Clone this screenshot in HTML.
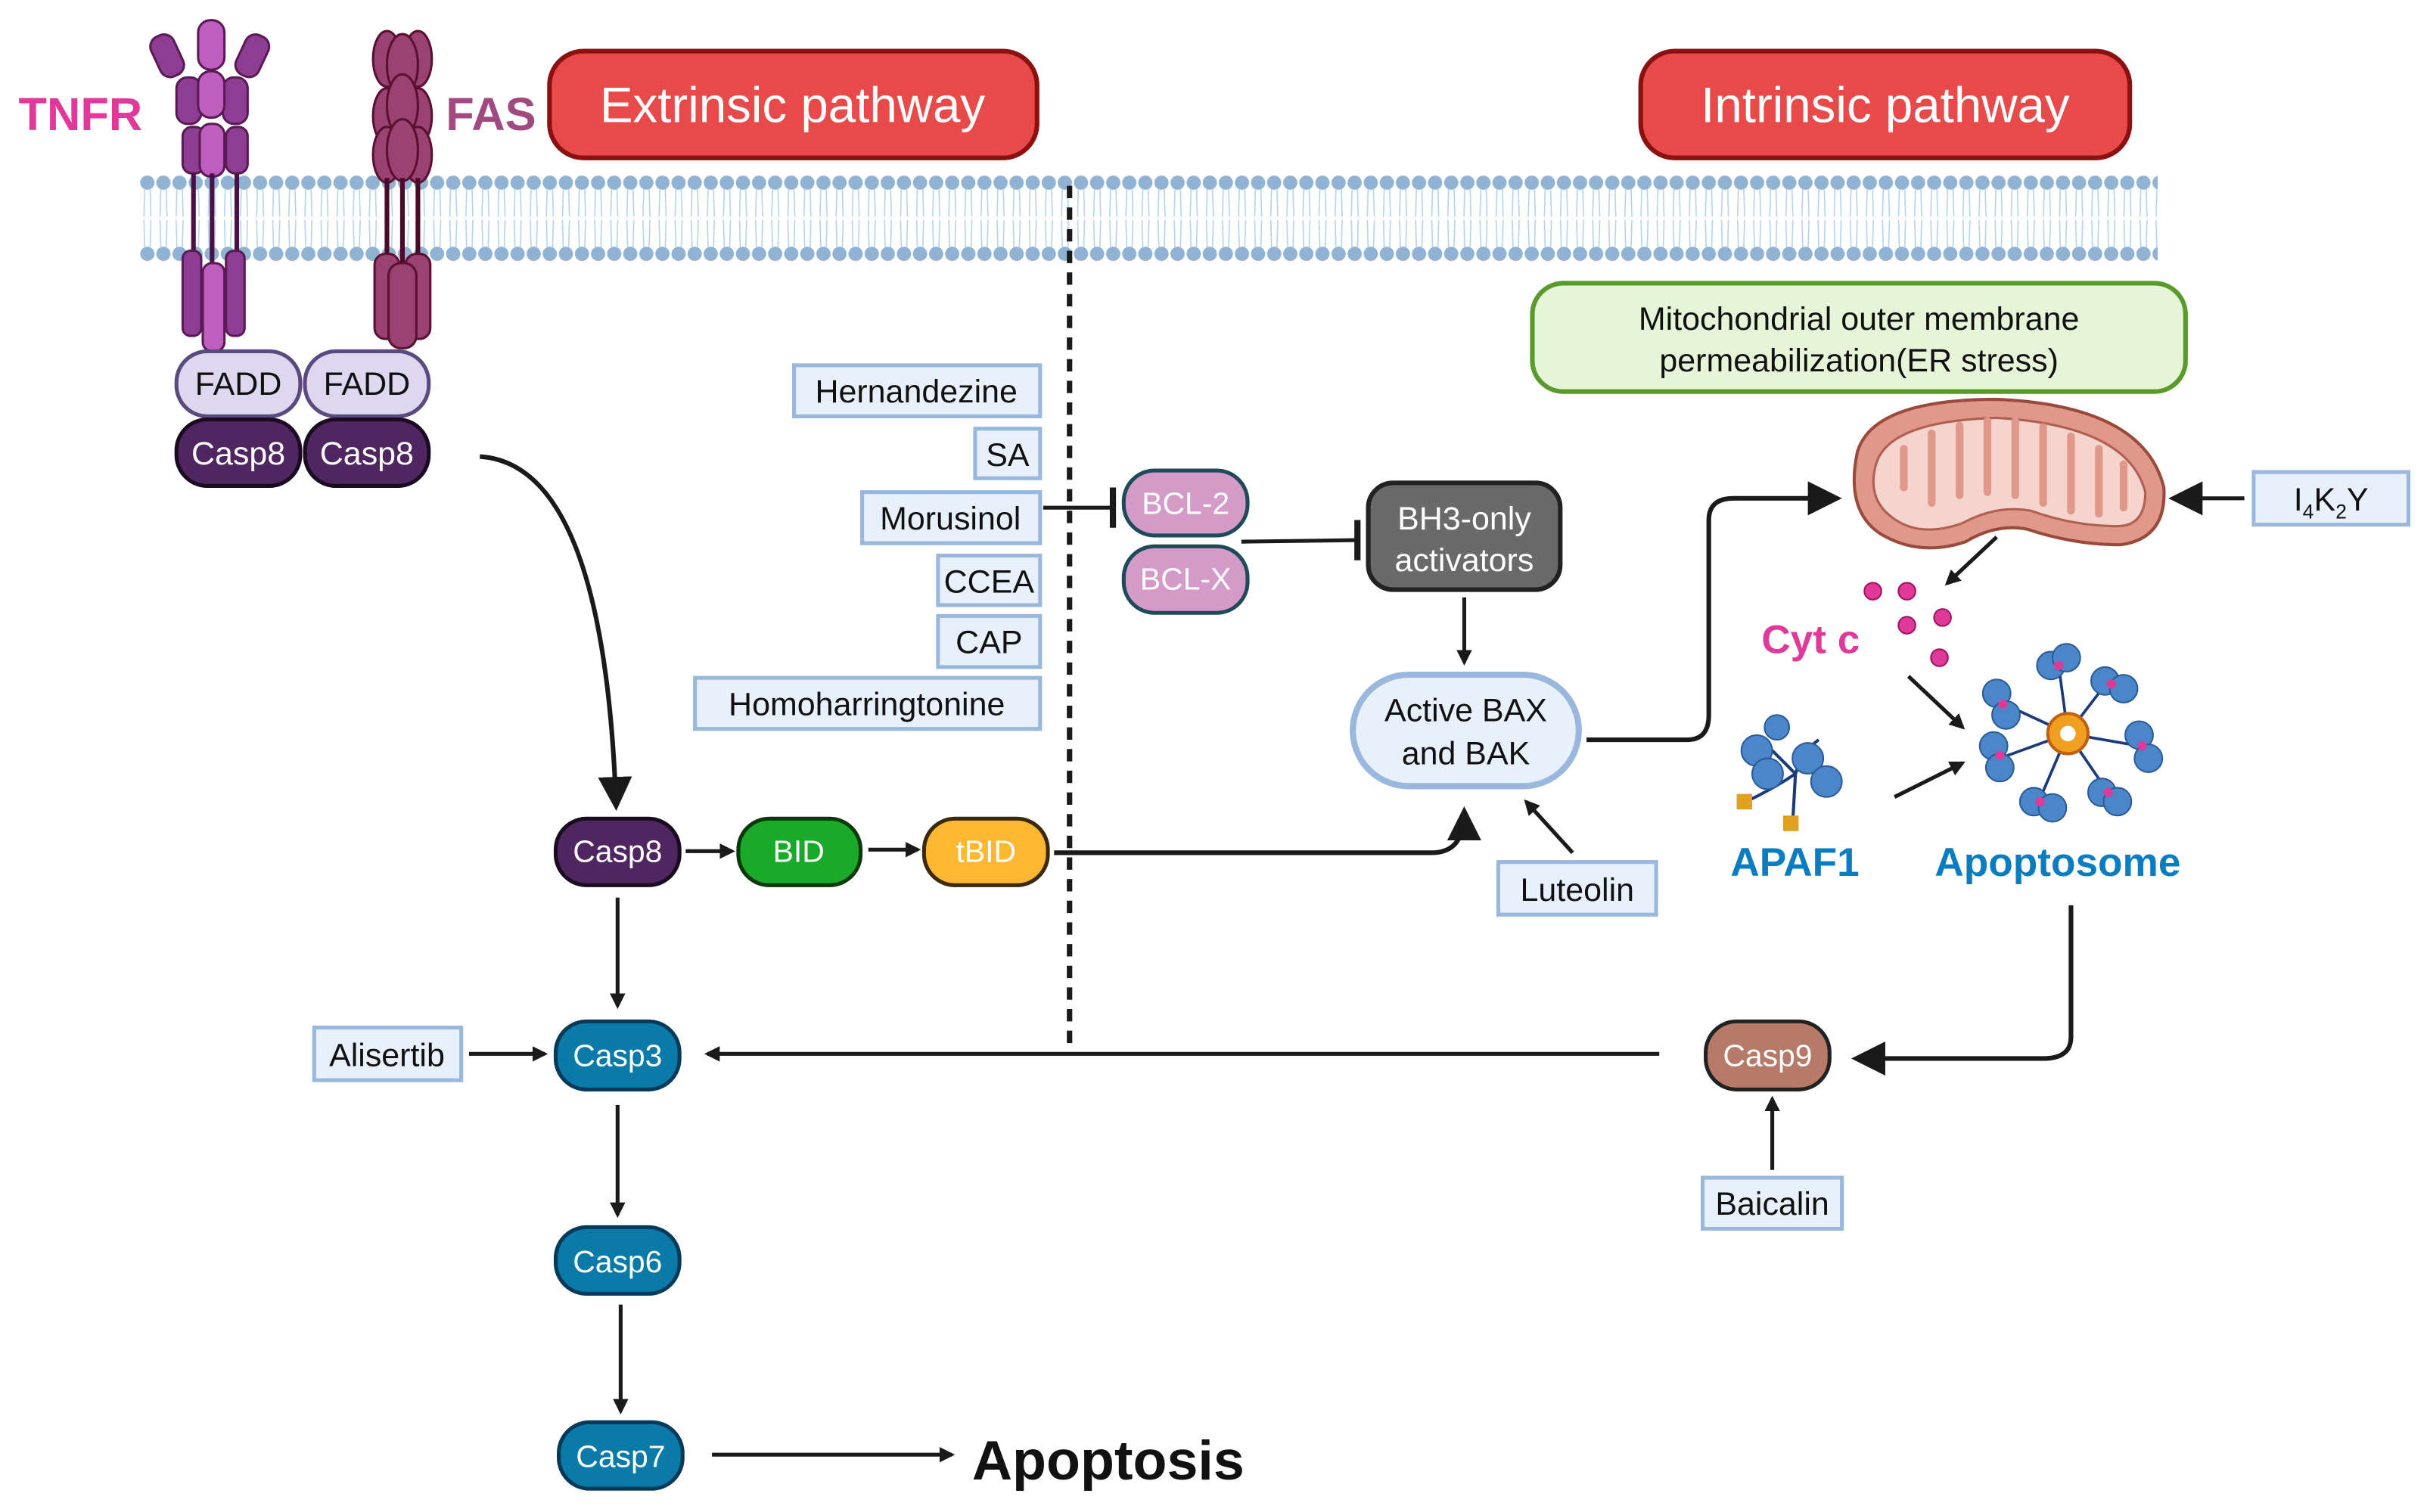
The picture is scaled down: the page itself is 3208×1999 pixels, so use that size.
<!DOCTYPE html>
<html><head><meta charset="utf-8"><style>
html,body{margin:0;padding:0;background:#fff}
svg{display:block}
text{font-family:"Liberation Sans",sans-serif}
</style></head><body>
<svg width="3208" height="1999" viewBox="0 0 1568 977" xmlns="http://www.w3.org/2000/svg">
<defs>
<marker id="ar" markerWidth="10" markerHeight="10" refX="8" refY="5" orient="auto" markerUnits="userSpaceOnUse"><path d="M0,0 L10,5 L0,10 z" fill="#1a1a1a"/></marker>
<marker id="arL" markerWidth="22" markerHeight="22" refX="18" refY="11" orient="auto" markerUnits="userSpaceOnUse"><path d="M0,0 L22,11 L0,22 z" fill="#1a1a1a"/></marker>
<pattern id="dots" x="90" y="0" width="10.4" height="60" patternUnits="userSpaceOnUse">
<circle cx="5.2" cy="118" r="4.5" fill="#8fb0d0"/>
</pattern>
<pattern id="mem" x="90" y="113" width="10.4" height="56" patternUnits="userSpaceOnUse">
<circle cx="5.2" cy="5" r="4.6" fill="#90b2d3"/>
<circle cx="5.2" cy="51" r="4.6" fill="#90b2d3"/>
<path d="M3.5 9 L3 27 M7 9 L7.5 27 M3 29 L3.5 47 M7.5 29 L7 47" stroke="#b5d3ee" stroke-width="0.8" fill="none"/>
</pattern>
</defs>

<!-- membrane -->
<rect x="90" y="113" width="1304" height="56" fill="url(#mem)"/>

<!-- dashed line -->
<line x1="691" y1="120" x2="691" y2="676" stroke="#1a1a1a" stroke-width="3.5" stroke-dasharray="8,6"/>

<!-- TNFR receptor -->
<g stroke="#5a1a55" stroke-width="1.5">
<rect x="100" y="22" width="16" height="28" rx="7" fill="#8e3e92" transform="rotate(-25 108 36)"/>
<rect x="155" y="22" width="16" height="28" rx="7" fill="#8e3e92" transform="rotate(25 163 36)"/>
<rect x="128" y="13" width="17" height="32" rx="8" fill="#c05ec0"/>
<rect x="114" y="50" width="16" height="30" rx="7" fill="#8e3e92"/>
<rect x="144" y="50" width="16" height="30" rx="7" fill="#8e3e92"/>
<rect x="128" y="46" width="17" height="30" rx="8" fill="#c05ec0"/>
<rect x="118" y="82" width="14" height="30" rx="6" fill="#8e3e92"/>
<rect x="146" y="82" width="14" height="30" rx="6" fill="#8e3e92"/>
<rect x="129" y="80" width="16" height="34" rx="7" fill="#c05ec0"/>
</g>
<g stroke="#4a1048" stroke-width="3"><line x1="125" y1="112" x2="125" y2="170"/><line x1="137" y1="112" x2="137" y2="180"/><line x1="153" y1="112" x2="153" y2="170"/></g>
<g stroke="#5a1a55" stroke-width="1.5">
<rect x="118" y="162" width="12" height="55" rx="5" fill="#8e3e92"/>
<rect x="146" y="162" width="12" height="55" rx="5" fill="#8e3e92"/>
<rect x="131" y="170" width="14" height="57" rx="6" fill="#c05ec0"/>
</g>
<!-- FAS receptor -->
<g stroke="#5a1030" stroke-width="1.5" fill="#9a4272">
<ellipse cx="250" cy="38" rx="9" ry="18"/><ellipse cx="270" cy="38" rx="9" ry="18"/><ellipse cx="260" cy="42" rx="10" ry="20"/>
<ellipse cx="250" cy="75" rx="9" ry="18"/><ellipse cx="270" cy="75" rx="9" ry="18"/><ellipse cx="260" cy="68" rx="10" ry="20"/>
<ellipse cx="250" cy="100" rx="9" ry="18"/><ellipse cx="270" cy="100" rx="9" ry="18"/><ellipse cx="260" cy="97" rx="10" ry="20"/>
</g>
<g stroke="#4a0a28" stroke-width="3"><line x1="250" y1="115" x2="250" y2="175"/><line x1="260" y1="115" x2="260" y2="175"/><line x1="270" y1="115" x2="270" y2="175"/></g>
<g stroke="#5a1030" stroke-width="1.5" fill="#9a4272">
<rect x="242" y="164" width="16" height="55" rx="7"/><rect x="262" y="164" width="16" height="55" rx="7"/><rect x="251" y="170" width="18" height="55" rx="8"/>
</g>

<text x="12" y="84" font-size="30" font-weight="bold" fill="#e0399a">TNFR</text>
<text x="288" y="84" font-size="30" font-weight="bold" fill="#a04a80">FAS</text>

<!-- FADD / Casp8 -->
<g stroke="#5a4a80" stroke-width="2.5" fill="#ddd8f0">
<rect x="114" y="227" width="80" height="42" rx="20"/><rect x="197" y="227" width="80" height="42" rx="20"/>
</g>
<g stroke="#1a0a22" stroke-width="2.5" fill="#502660">
<rect x="114" y="271" width="80" height="43" rx="20"/><rect x="197" y="271" width="80" height="43" rx="20"/>
</g>
<g font-size="21" text-anchor="middle">
<text x="154" y="255" fill="#111">FADD</text><text x="237" y="255" fill="#111">FADD</text>
<text x="154" y="300" fill="#fff">Casp8</text><text x="237" y="300" fill="#fff">Casp8</text>
</g>

<!-- Pathway titles -->
<rect x="355" y="33" width="315" height="69" rx="22" fill="#e84a4a" stroke="#8b1010" stroke-width="3"/>
<text x="512" y="79" font-size="32" fill="#fff" text-anchor="middle">Extrinsic pathway</text>
<rect x="1060" y="33" width="316" height="69" rx="22" fill="#e84a4a" stroke="#8b1010" stroke-width="3"/>
<text x="1218" y="79" font-size="32" fill="#fff" text-anchor="middle">Intrinsic pathway</text>

<!-- Mito box -->
<rect x="990" y="183" width="422" height="70" rx="20" fill="#e6f4d8" stroke="#5a9a2a" stroke-width="3"/>
<text x="1201" y="213" font-size="21" text-anchor="middle" fill="#111">Mitochondrial outer membrane</text>
<text x="1201" y="240" font-size="21" text-anchor="middle" fill="#111">permeabilization(ER stress)</text>

<!-- Drug boxes -->
<g fill="#e8f1fb" stroke="#9ab8dd" stroke-width="2.5">
<rect x="513" y="236" width="159" height="33"/>
<rect x="630" y="277" width="42" height="32"/>
<rect x="557" y="318" width="115" height="33"/>
<rect x="606" y="359" width="66" height="32"/>
<rect x="606" y="398" width="66" height="33"/>
<rect x="449" y="438" width="223" height="33"/>
<rect x="968" y="557" width="102" height="34"/>
<rect x="203" y="664" width="95" height="34"/>
<rect x="1100" y="761" width="90" height="33"/>
<rect x="1456" y="305" width="100" height="34"/>
</g>
<g font-size="21" fill="#111" text-anchor="middle">
<text x="592" y="260">Hernandezine</text>
<text x="651" y="301">SA</text>
<text x="614" y="342">Morusinol</text>
<text x="639" y="383">CCEA</text>
<text x="639" y="422">CAP</text>
<text x="560" y="462">Homoharringtonine</text>
<text x="1019" y="582">Luteolin</text>
<text x="250" y="689">Alisertib</text>
<text x="1145" y="785">Baicalin</text>
<text x="1506" y="330">I<tspan font-size="13" dy="5">4</tspan><tspan dy="-5">K</tspan><tspan font-size="13" dy="5">2</tspan><tspan dy="-5">Y</tspan></text>
</g>

<!-- BCL -->
<g fill="#d49ac8" stroke="#1e4a5a" stroke-width="2.5">
<rect x="726" y="304" width="80" height="42" rx="20"/><rect x="726" y="353" width="80" height="43" rx="20"/>
</g>
<text x="766" y="332" font-size="20" fill="#fff" text-anchor="middle">BCL-2</text>
<text x="766" y="381" font-size="20" fill="#fff" text-anchor="middle">BCL-X</text>
<g stroke="#1a1a1a" stroke-width="2.5">
<line x1="674" y1="328" x2="718" y2="328"/><line x1="719" y1="315" x2="719" y2="341" stroke-width="4"/>
<line x1="802" y1="350" x2="876" y2="349"/><line x1="877" y1="336" x2="877" y2="362" stroke-width="4"/>
</g>

<!-- BH3 -->
<rect x="884" y="312" width="124" height="69" rx="16" fill="#6a6a6a" stroke="#222" stroke-width="3"/>
<text x="946" y="342" font-size="21" fill="#fff" text-anchor="middle">BH3-only</text>
<text x="946" y="369" font-size="21" fill="#fff" text-anchor="middle">activators</text>
<line x1="946" y1="386" x2="946" y2="428" stroke="#1a1a1a" stroke-width="2.5" marker-end="url(#ar)"/>

<!-- Active BAX -->
<rect x="874" y="436" width="146" height="72" rx="36" fill="#e8f1fb" stroke="#9ab8dd" stroke-width="4"/>
<text x="947" y="466" font-size="21" fill="#111" text-anchor="middle">Active BAX</text>
<text x="947" y="494" font-size="21" fill="#111" text-anchor="middle">and BAK</text>
<line x1="1016" y1="551" x2="986" y2="518" stroke="#1a1a1a" stroke-width="2.5" marker-end="url(#ar)"/>

<!-- Casp8 BID tBID -->
<rect x="359" y="529" width="80" height="43" rx="20" fill="#502660" stroke="#1a0a22" stroke-width="2.5"/>
<rect x="477" y="529" width="79" height="43" rx="20" fill="#1aaa2a" stroke="#0a3a0a" stroke-width="2.5"/>
<rect x="597" y="529" width="80" height="43" rx="20" fill="#fdb733" stroke="#3a2a0a" stroke-width="2.5"/>
<text x="399" y="557" font-size="20" fill="#fff" text-anchor="middle">Casp8</text>
<text x="516" y="557" font-size="20" fill="#fff" text-anchor="middle">BID</text>
<text x="637" y="557" font-size="20" fill="#fff" text-anchor="middle">tBID</text>
<g stroke="#1a1a1a" stroke-width="2.5" fill="none">
<line x1="443" y1="550" x2="473" y2="550" marker-end="url(#ar)"/>
<line x1="561" y1="549" x2="593" y2="549" marker-end="url(#ar)"/>
<path d="M681 551 L925 551 Q946 551 946 525" marker-end="url(#arL)" stroke-width="3"/>
<path d="M310 295 Q390 300 398 520" marker-end="url(#arL)" stroke-width="3"/>
<line x1="399" y1="580" x2="399" y2="650" marker-end="url(#ar)"/>
<line x1="399" y1="714" x2="399" y2="785" marker-end="url(#ar)"/>
<line x1="401" y1="843" x2="401" y2="912" marker-end="url(#ar)"/>
<line x1="460" y1="940" x2="615" y2="940" marker-end="url(#ar)"/>
<line x1="303" y1="681" x2="352" y2="681" marker-end="url(#ar)"/>
<line x1="1072" y1="681" x2="457" y2="681" marker-end="url(#ar)"/>
<line x1="1145" y1="756" x2="1145" y2="710" marker-end="url(#ar)"/>
<path d="M1338 585 L1338 670 Q1338 684 1320 684 L1200 684" marker-end="url(#arL)" stroke-width="3"/>
<path d="M1025 478 L1090 478 Q1104 478 1104 462 L1104 336 Q1104 322 1120 322 L1186 322" marker-end="url(#arL)" stroke-width="3"/>
<line x1="1450" y1="322" x2="1405" y2="322" marker-end="url(#arL)"/>
<line x1="1290" y1="347" x2="1258" y2="377" marker-end="url(#ar)"/>
<line x1="1233" y1="437" x2="1268" y2="470" marker-end="url(#ar)"/>
<line x1="1224" y1="515" x2="1268" y2="493" marker-end="url(#ar)"/>
</g>

<!-- Casp3/6/7 -->
<g fill="#0a7aa8" stroke="#053a5a" stroke-width="2.5">
<rect x="359" y="660" width="80" height="44" rx="20"/>
<rect x="359" y="793" width="80" height="43" rx="20"/>
<rect x="361" y="919" width="80" height="43" rx="20"/>
</g>
<text x="399" y="689" font-size="20" fill="#fff" text-anchor="middle">Casp3</text>
<text x="399" y="822" font-size="20" fill="#fff" text-anchor="middle">Casp6</text>
<text x="401" y="948" font-size="20" fill="#fff" text-anchor="middle">Casp7</text>
<text x="628" y="956" font-size="36" font-weight="bold" fill="#111">Apoptosis</text>

<!-- Casp9 -->
<rect x="1102" y="660" width="80" height="44" rx="20" fill="#b87a68" stroke="#222" stroke-width="2.5"/>
<text x="1142" y="689" font-size="20" fill="#fff" text-anchor="middle">Casp9</text>

<!-- Mitochondrion -->
<path d="M1200 292 Q1210 258 1290 258 Q1385 262 1398 315 Q1400 348 1370 352 Q1340 352 1310 342 Q1290 338 1270 350 Q1240 360 1215 345 Q1192 330 1200 292 Z" fill="#e0988a" stroke="#9a4a3a" stroke-width="2"/>
<path d="M1212 300 Q1220 272 1290 270 Q1375 275 1386 318 Q1386 340 1368 340 Q1340 340 1312 330 Q1290 326 1268 338 Q1240 348 1222 334 Q1206 322 1212 300 Z" fill="#f4d4cc" stroke="#b0604e" stroke-width="1.5"/>
<g stroke="#e0988a" stroke-width="5" stroke-linecap="round">
<line x1="1230" y1="290" x2="1230" y2="315"/><line x1="1248" y1="280" x2="1248" y2="325"/><line x1="1266" y1="275" x2="1266" y2="320"/>
<line x1="1284" y1="272" x2="1284" y2="318"/><line x1="1302" y1="272" x2="1302" y2="320"/><line x1="1320" y1="276" x2="1320" y2="325"/>
<line x1="1338" y1="282" x2="1338" y2="330"/><line x1="1356" y1="290" x2="1356" y2="332"/><line x1="1372" y1="300" x2="1372" y2="328"/>
</g>

<!-- Cyt c -->
<text x="1138" y="422" font-size="26" font-weight="bold" fill="#e0399a">Cyt c</text>
<g fill="#e0399a" stroke="#a01060" stroke-width="1">
<circle cx="1210" cy="382" r="5.5"/><circle cx="1232" cy="382" r="5.5"/><circle cx="1232" cy="404" r="5.5"/><circle cx="1255" cy="399" r="5.5"/><circle cx="1253" cy="425" r="5.5"/>
</g>

<!-- APAF1 -->
<g stroke="#1a3a7a" stroke-width="2" fill="none">
<path d="M1128 518 Q1145 510 1160 500 L1158 535 M1160 500 Q1165 485 1175 478 M1160 500 Q1150 490 1140 480"/>
</g>
<g fill="#4a86c8" stroke="#2a5a9a" stroke-width="1">
<circle cx="1135" cy="485" r="10"/><circle cx="1142" cy="500" r="10"/><circle cx="1168" cy="490" r="10"/><circle cx="1180" cy="505" r="10"/><circle cx="1148" cy="470" r="8"/>
</g>
<rect x="1122" y="513" width="10" height="10" fill="#e0a020"/>
<rect x="1152" y="527" width="10" height="10" fill="#e0a020"/>
<text x="1118" y="566" font-size="26" font-weight="bold" fill="#0a7cc0">APAF1</text>

<!-- Apoptosome -->
<g stroke="#1a3a7a" stroke-width="1.8" fill="none">
<line x1="1336" y1="474" x2="1330" y2="430"/><line x1="1336" y1="474" x2="1362" y2="440"/>
<line x1="1336" y1="474" x2="1382" y2="482"/><line x1="1336" y1="474" x2="1362" y2="512"/>
<line x1="1336" y1="474" x2="1318" y2="516"/><line x1="1336" y1="474" x2="1292" y2="490"/>
<line x1="1336" y1="474" x2="1295" y2="455"/>
</g>
<g fill="#4a86c8" stroke="#2a5a9a" stroke-width="1">
<circle cx="1325" cy="430" r="9"/><circle cx="1335" cy="425" r="9"/>
<circle cx="1360" cy="440" r="9"/><circle cx="1372" cy="445" r="9"/>
<circle cx="1382" cy="475" r="9"/><circle cx="1388" cy="490" r="9"/>
<circle cx="1358" cy="512" r="9"/><circle cx="1368" cy="518" r="9"/>
<circle cx="1314" cy="518" r="9"/><circle cx="1326" cy="522" r="9"/>
<circle cx="1288" cy="482" r="9"/><circle cx="1292" cy="496" r="9"/>
<circle cx="1290" cy="448" r="9"/><circle cx="1296" cy="462" r="9"/>
</g>
<g fill="#e0399a"><circle cx="1330" cy="430" r="3"/><circle cx="1364" cy="442" r="3"/><circle cx="1384" cy="482" r="3"/><circle cx="1362" cy="512" r="3"/><circle cx="1318" cy="518" r="3"/><circle cx="1292" cy="488" r="3"/><circle cx="1294" cy="455" r="3"/></g>
<circle cx="1336" cy="474" r="13" fill="#f0a020" stroke="#c06010" stroke-width="2"/>
<circle cx="1336" cy="474" r="5" fill="#fff"/>
<text x="1250" y="566" font-size="26" font-weight="bold" fill="#0a7cc0">Apoptosome</text>
</svg>
</body></html>
